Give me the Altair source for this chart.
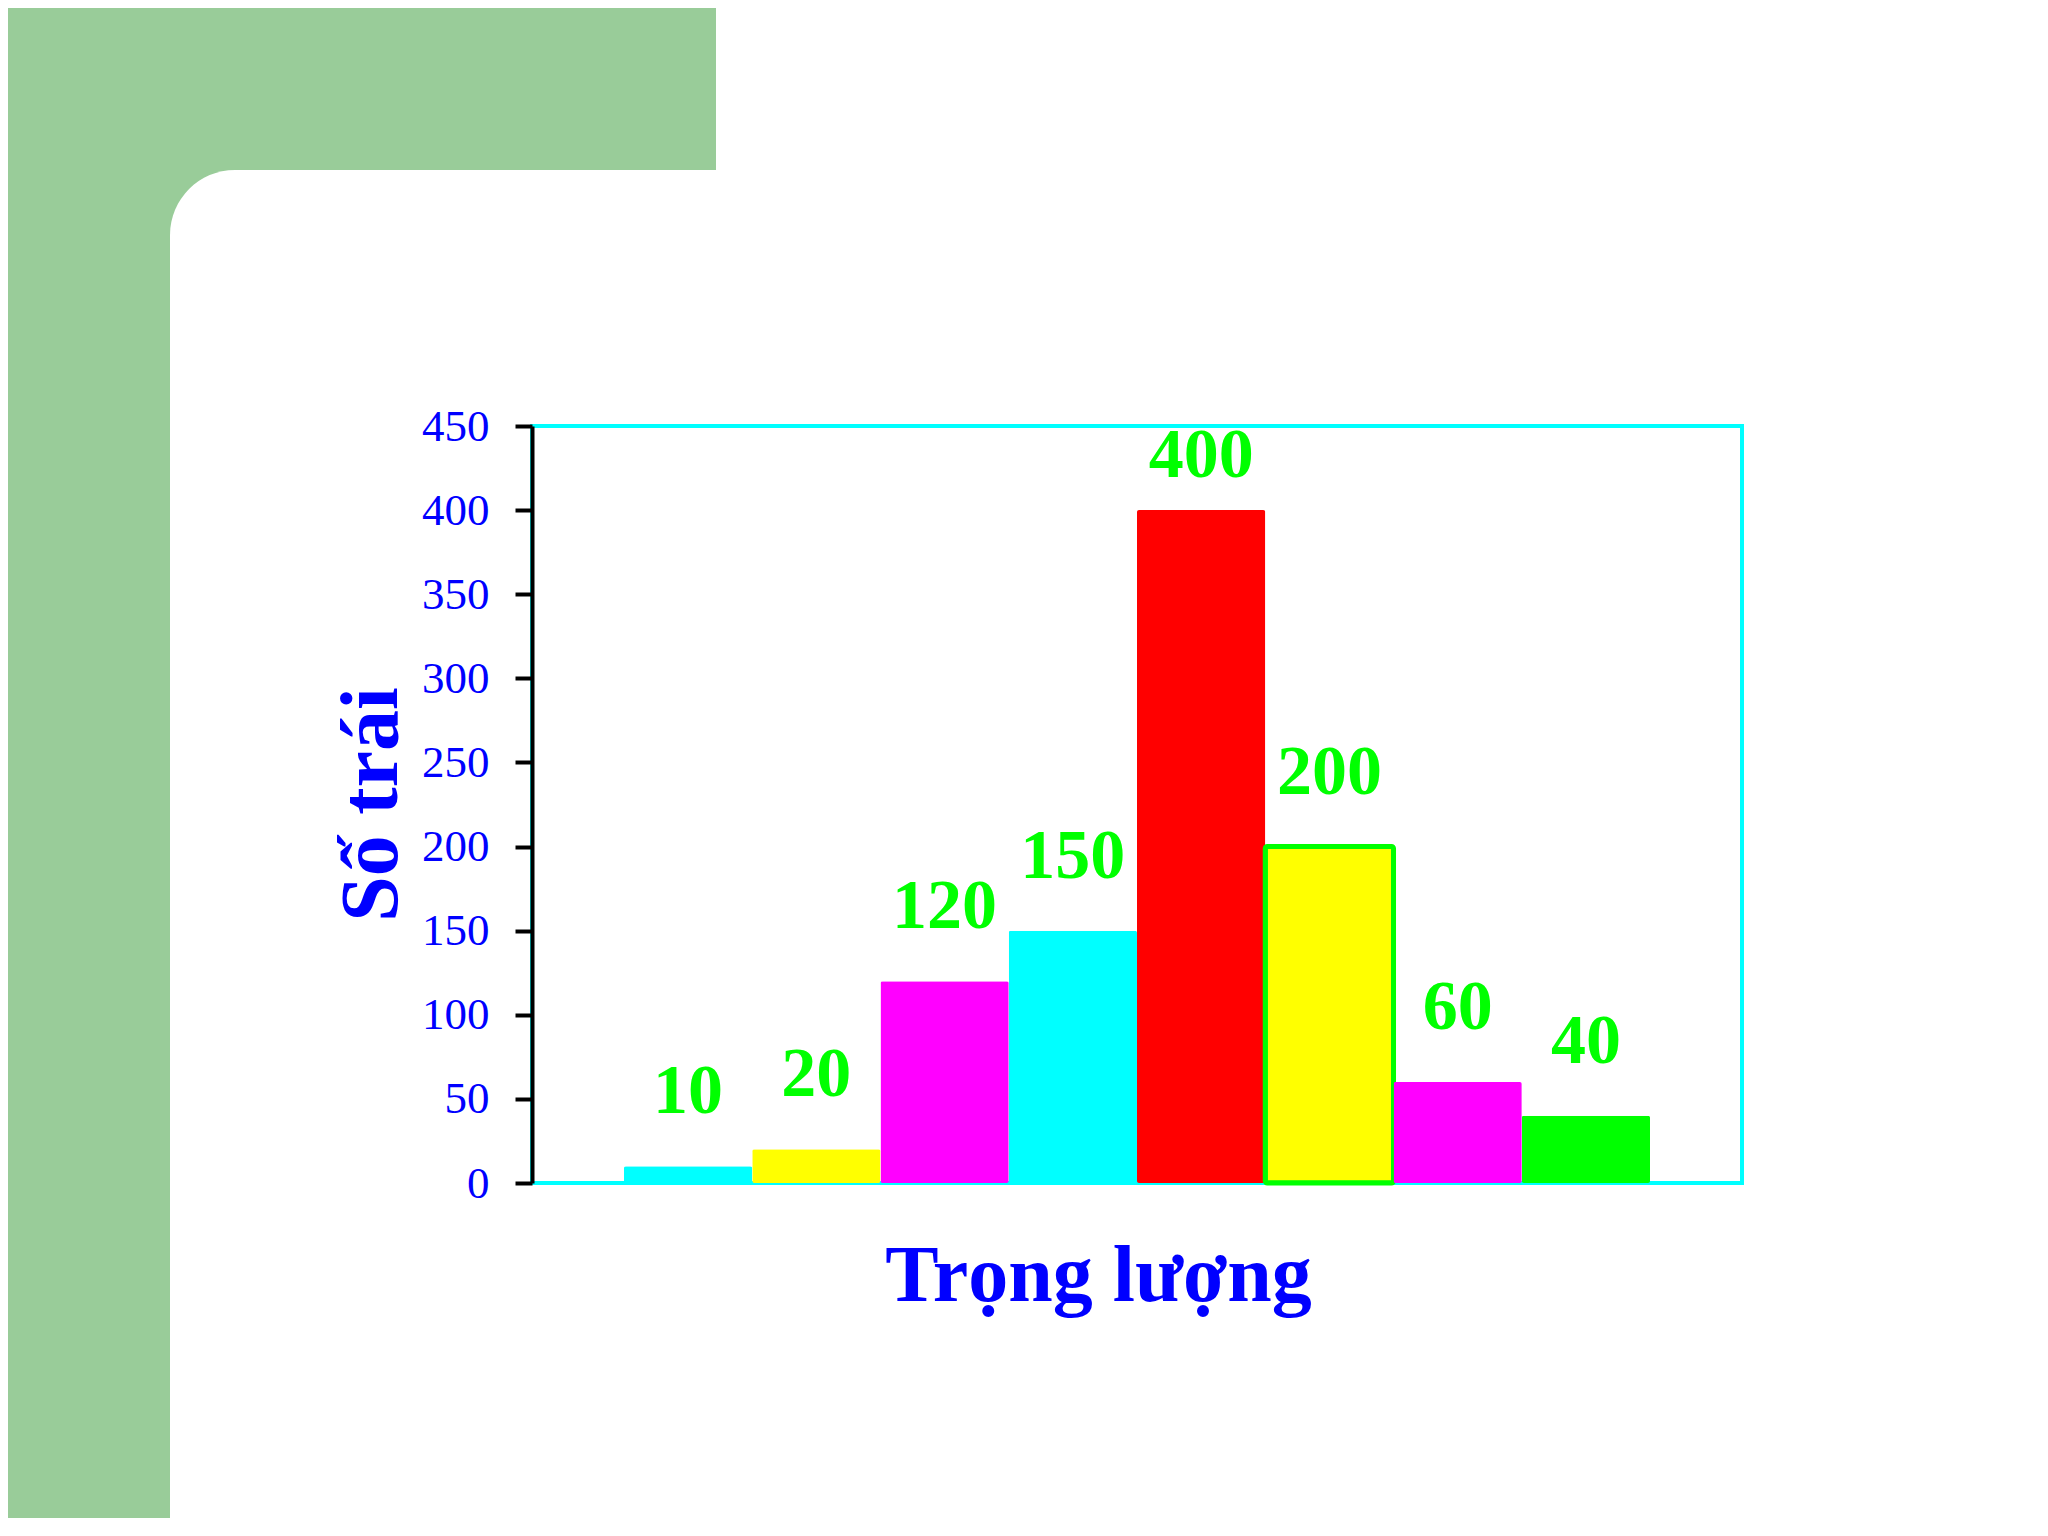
import altair as alt
import pandas as pd

# Số trái theo từng nhóm trọng lượng
categories = ["1", "2", "3", "4", "5", "6", "7", "8"]
counts = [10, 20, 120, 150, 400, 200, 60, 40]
y_ticks = [0, 50, 100, 150, 200, 250, 300, 350, 400, 450]

palette = ["#00FFFF", "#FFFF00", "#FF00FF", "#00FFFF", "#FF0000", "#FFFF00", "#FF00FF", "#00FF00"]
BLUE = "#0000FF"
GREEN_LABEL = "#00FF00"
SLIDE_GREEN = "#99CC99"
FONT = "Liberation Serif"

df = pd.DataFrame({"category": categories, "count": counts})
deco = pd.DataFrame({"k": [0]})

x_enc = alt.X(
    "category:N", sort=None,
    scale=alt.Scale(paddingInner=0, paddingOuter=0.717),
    axis=alt.Axis(labels=False, ticks=False, domain=False, title="Trọng lượng",
                  titleFont=FONT, titleFontSize=80, titleFontWeight="bold", titleColor=BLUE,
                  titleX=566, titleY=117, titleAlign="center", titleBaseline="alphabetic"),
)
y_scale = alt.Scale(domain=[0, 450], nice=False)

# nền slide: khung xanh hình chữ L
green_col = alt.Chart(deco).mark_rect(color=SLIDE_GREEN).encode(
    x=alt.value(-540), x2=alt.value(-362), y=alt.value(-440), y2=alt.value(1120))
green_band = alt.Chart(deco).mark_rect(color=SLIDE_GREEN).encode(
    x=alt.value(-540), x2=alt.value(184), y=alt.value(-440), y2=alt.value(-256))
green_corner = alt.Chart(deco).mark_rect(color=SLIDE_GREEN).encode(
    x=alt.value(-362), x2=alt.value(-290), y=alt.value(-256), y2=alt.value(-184))
white_corner = alt.Chart(deco).mark_rect(color="white", cornerRadiusTopLeft=65).encode(
    x=alt.value(-362), x2=alt.value(-200), y=alt.value(-256), y2=alt.value(-100))

bars = alt.Chart(df).mark_bar(cornerRadius=2, stroke=GREEN_LABEL).encode(
    x=x_enc,
    y=alt.Y("count:Q", scale=y_scale,
            axis=alt.Axis(values=y_ticks, grid=False,
                          domainColor="black", domainWidth=4,
                          tickColor="black", tickWidth=4, tickSize=17,
                          labelFont=FONT, labelFontSize=45, labelColor=BLUE, labelPadding=26,
                          title="Số trái", titleFont=FONT, titleFontSize=82,
                          titleFontWeight="bold", titleColor=BLUE,
                          titleX=-136, titleY=378, titleAngle=270,
                          titleAlign="center", titleBaseline="alphabetic")),
    color=alt.Color("category:N", sort=None,
                    scale=alt.Scale(domain=categories, range=palette), legend=None),
    strokeWidth=alt.condition("datum.category == '6'", alt.value(5), alt.value(0)),
)

labels = alt.Chart(df).transform_calculate(
    label_y="min(datum.count, 388)"
).mark_text(dy=-74, baseline="middle", font=FONT, fontSize=70,
            fontWeight="bold", color=GREEN_LABEL).encode(
    x=x_enc,
    y=alt.Y("label_y:Q", scale=y_scale),
    text="count:Q",
)

chart = alt.layer(green_col, green_band, green_corner, white_corner, bars, labels).properties(
    width=1210, height=757,
    autosize=alt.AutoSizeParams(type="none"),
    padding={"left": 524, "top": 418, "right": 298, "bottom": 335},
    background="white",
).configure_view(stroke="#00FFFF", strokeWidth=4)

chart.save("out.html", embed_options={"renderer": "svg", "actions": False})
